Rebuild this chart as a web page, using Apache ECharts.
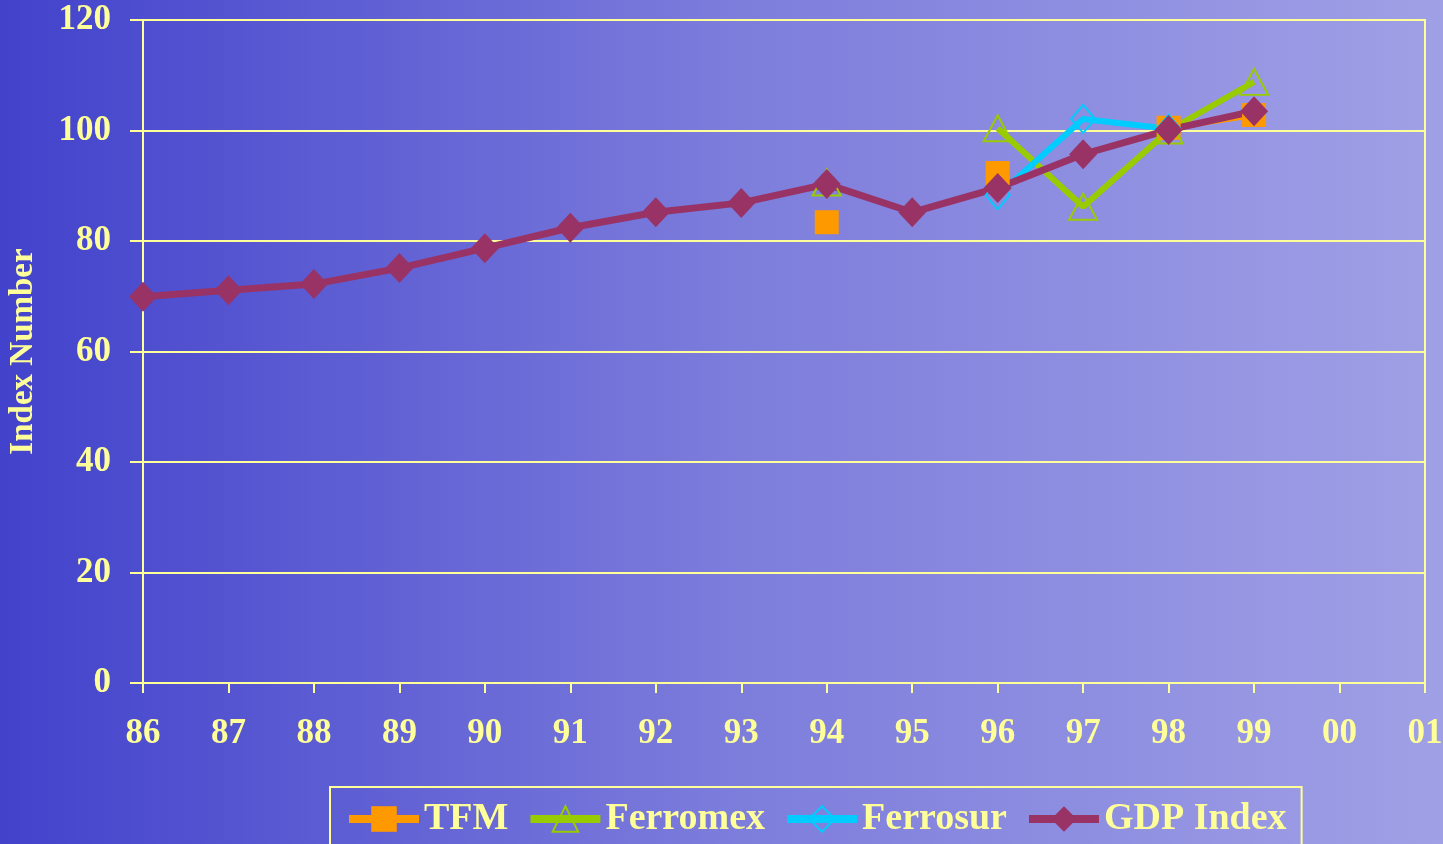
<!DOCTYPE html>
<html>
<head>
<meta charset="utf-8">
<script src="https://cdn.jsdelivr.net/npm/echarts@6/dist/echarts.min.js"></script>
<style>
html,body{margin:0;padding:0;width:1443px;height:844px;overflow:hidden;}
#c{width:1443px;height:844px;}
</style>
</head>
<body>
<div id="c"></div>
<script>
const years = ['86','87','88','89','90','91','92','93','94','95','96','97','98','99','00','01'];
const tfm      = [null,null,null,null,null,null,null,null,83.4,null,92.3,null,100.5,102.8,null,null];
const ferromex = [null,null,null,null,null,null,null,null,90.6,null,100.4,86.2,100.0,108.8,null,null];
const ferrosur = [null,null,null,null,null,null,null,null,null,null,88.3,102.1,100.3,null,null,null];
const gdp      = [69.9,71.1,72.2,75.1,78.7,82.4,85.2,86.9,90.3,85.2,89.6,95.7,100.1,103.5,null,null];
const yTicks = [0,20,40,60,80,100,120];

const TXT = '#FFFF99';
const FONT = "'Liberation Serif','Times New Roman',serif";

const chart = echarts.init(document.getElementById('c'));
chart.setOption({
  animation: false,
  backgroundColor: {
    type: 'linear', x: 0, y: 0, x2: 1, y2: 0,
    colorStops: [
      {offset: 0, color: '#4242CC'},
      {offset: 0.5, color: '#7C7CDC'},
      {offset: 1, color: '#A0A0E6'}
    ]
  },
  grid: {
    left: 143, right: 18, top: 20, bottom: 161,
    outerBoundsMode: 'none', containLabel: false,
    show: true, borderColor: TXT, borderWidth: 2, backgroundColor: 'transparent'
  },
  legend: {
    left: 330, top: 787,
    padding: [13, 15, 30, 15],
    borderColor: TXT, borderWidth: 2,
    itemWidth: 70, itemHeight: 32, itemGap: 18,
    lineStyle: {width: 8},
    textStyle: {color: TXT, fontFamily: FONT, fontWeight: 'bold', fontSize: 38},
    data: ['TFM','Ferromex','Ferrosur','GDP Index']
  },
  xAxis: {
    type: 'category', data: years, boundaryGap: false,
    axisLine: {lineStyle: {color: TXT, width: 2}},
    axisTick: {show: true, length: 10, lineStyle: {color: TXT, width: 2}},
    axisLabel: {color: TXT, fontFamily: FONT, fontWeight: 'bold', fontSize: 35, margin: 33, interval: 0},
    splitLine: {show: false}
  },
  yAxis: {
    type: 'value', min: 0, max: 120, interval: 20,
    name: 'Index Number', nameLocation: 'middle', nameGap: 103, nameRotate: 90,
    nameTextStyle: {color: TXT, fontFamily: FONT, fontWeight: 'bold', fontSize: 33},
    axisLine: {show: true, lineStyle: {color: TXT, width: 2}},
    axisTick: {show: true, length: 13, lineStyle: {color: TXT, width: 2}},
    axisLabel: {color: TXT, fontFamily: FONT, fontWeight: 'bold', fontSize: 35, margin: 32,
      formatter: v => yTicks.includes(v) ? String(v) : ''},
    splitLine: {show: true, lineStyle: {color: TXT, width: 2}}
  },
  series: [
    {
      name: 'TFM', type: 'line', data: tfm, connectNulls: false,
      symbol: 'rect', symbolSize: 24,
      lineStyle: {color: '#FF9900', width: 6},
      itemStyle: {color: '#FF9900'}
    },
    {
      name: 'Ferromex', type: 'line', data: ferromex, connectNulls: false,
      symbol: 'triangle', symbolSize: [28, 26],
      lineStyle: {color: '#99CC00', width: 6},
      itemStyle: {color: 'rgba(0,0,0,0)', borderColor: '#99CC00', borderWidth: 2}
    },
    {
      name: 'Ferrosur', type: 'line', data: ferrosur, connectNulls: false,
      symbol: 'diamond', symbolSize: [24, 28],
      lineStyle: {color: '#00CCFF', width: 6},
      itemStyle: {color: 'rgba(0,0,0,0)', borderColor: '#00CCFF', borderWidth: 2}
    },
    {
      name: 'GDP Index', type: 'line', data: gdp, connectNulls: false,
      symbol: 'diamond', symbolSize: [28, 30],
      lineStyle: {color: '#993366', width: 7},
      itemStyle: {color: '#993366'}
    }
  ]
});
</script>
</body>
</html>
